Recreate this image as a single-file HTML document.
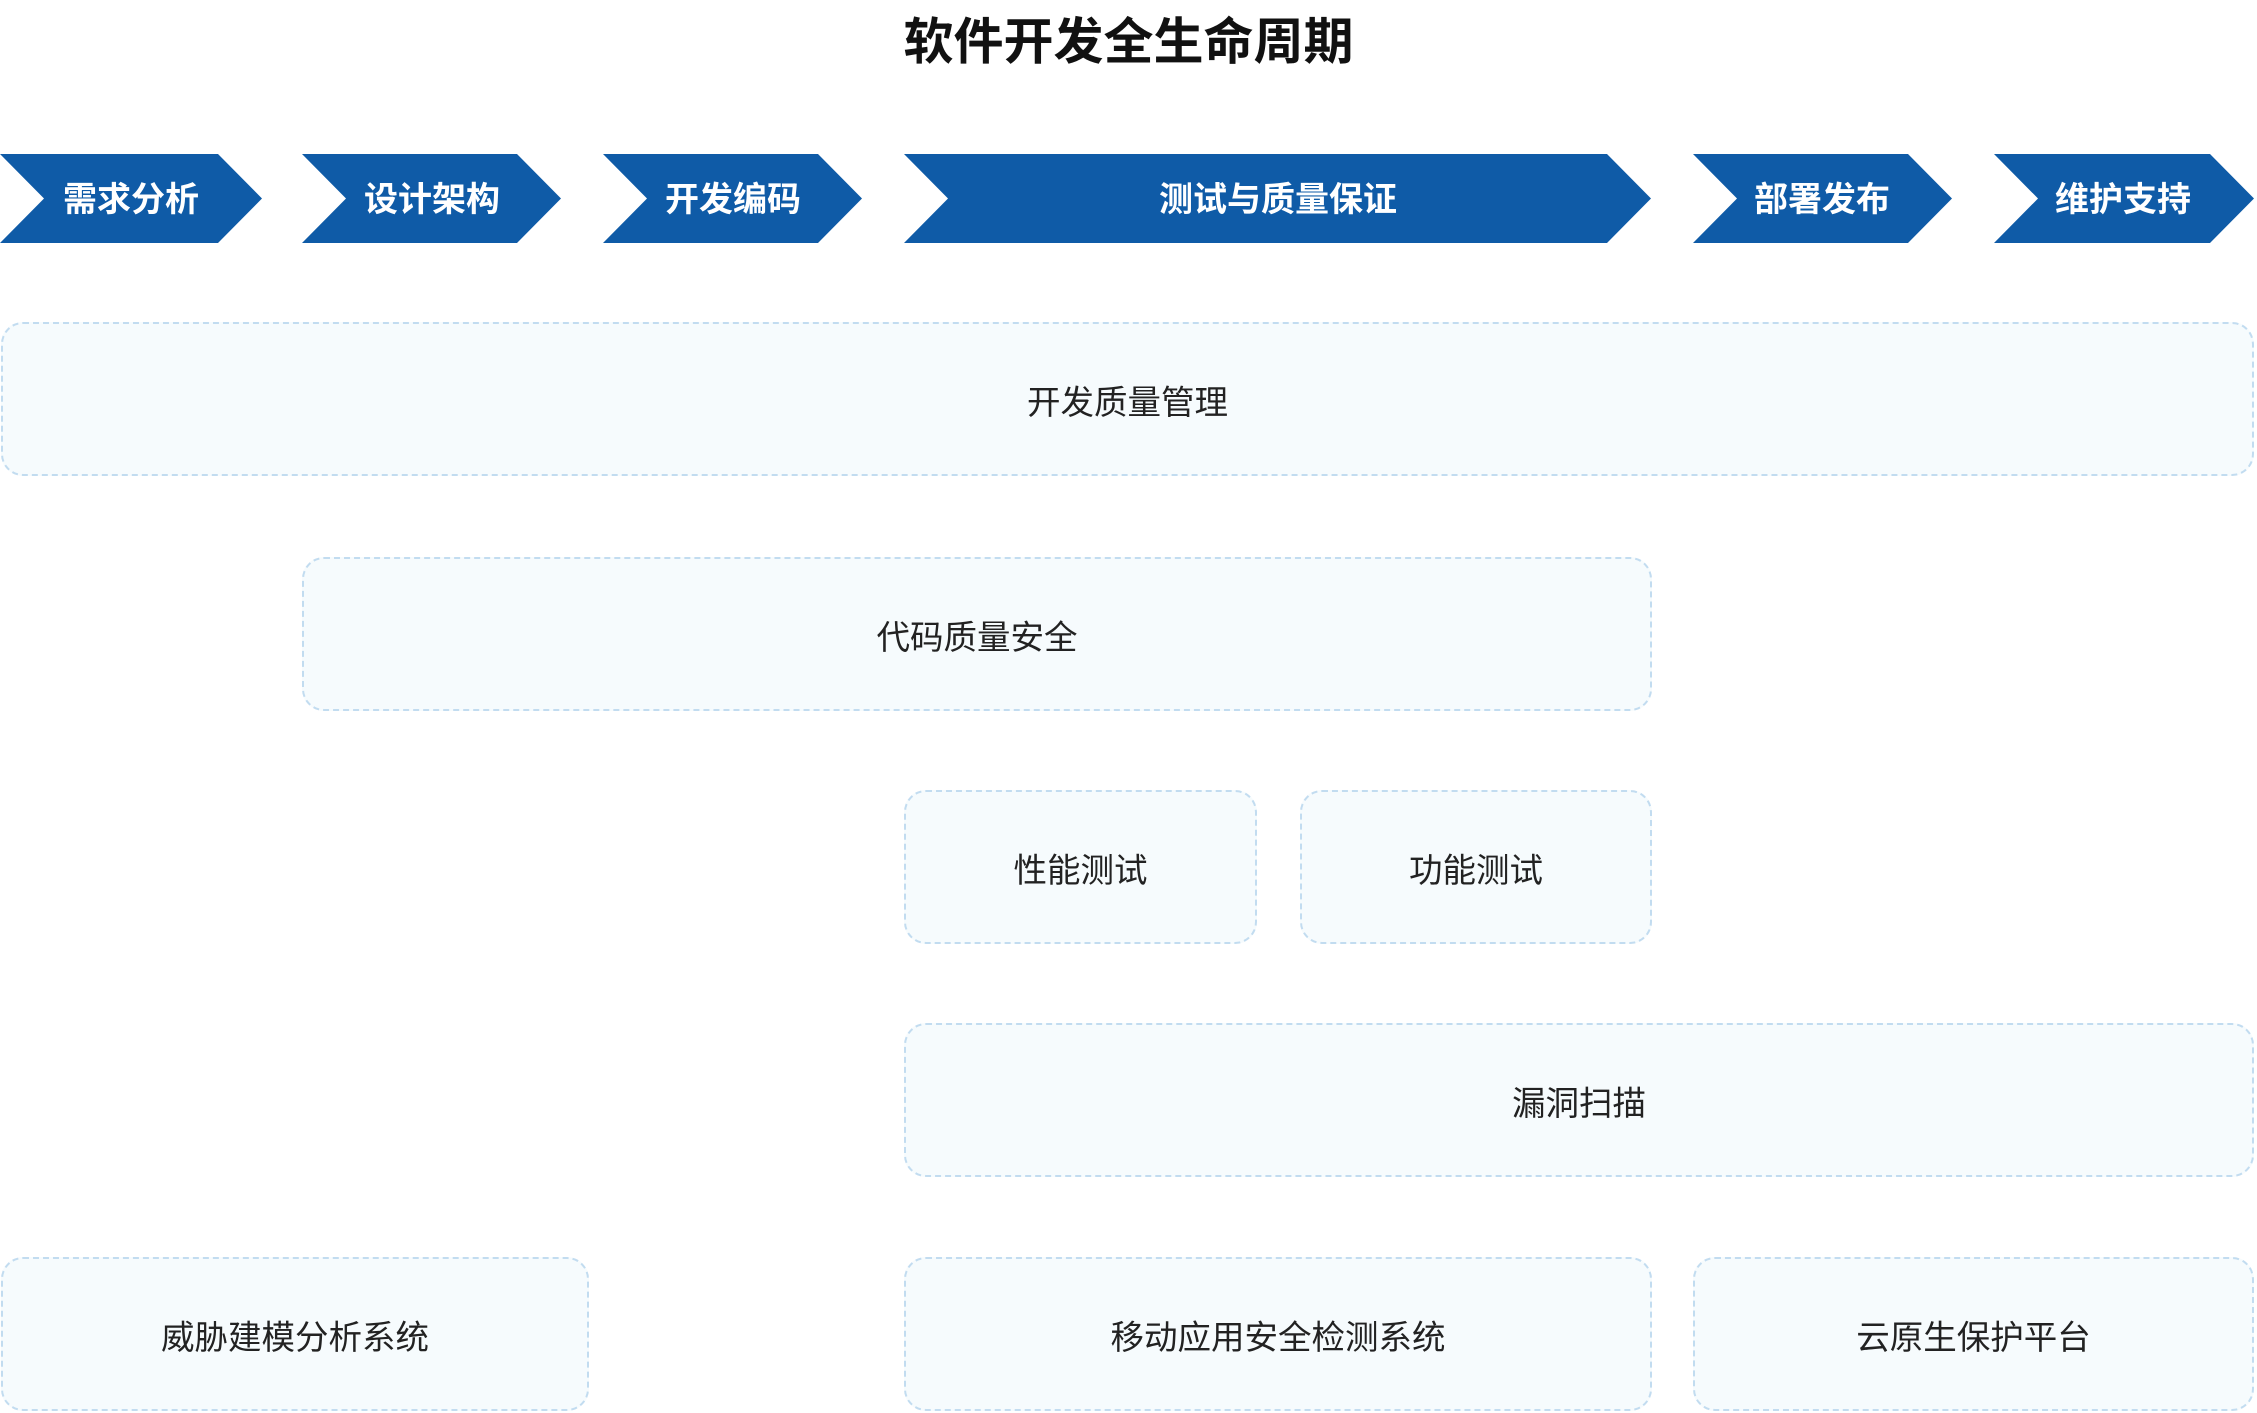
<!DOCTYPE html>
<html><head><meta charset="utf-8"><style>
body{margin:0;width:2257px;height:1413px;background:#fff;position:relative;overflow:hidden;font-family:"Liberation Sans","Noto Sans CJK SC",sans-serif}
.t{position:absolute;left:0;width:2257px;top:2px;text-align:center;font-size:50px;font-weight:bold;color:#111}
.b{position:absolute;box-sizing:border-box;background:#f6fbfd;border:2px dashed #c2dcf0;border-radius:22px;display:flex;align-items:center;justify-content:center;font-size:33.5px;color:#222}
svg{position:absolute;left:0;top:0}
</style></head><body>
<div class="t">软件开发全生命周期</div>
<svg width="2257" height="260">
<g fill="#0f5ba7">
<polygon points="0,154 218,154 262,198.5 218,243 0,243 44,198.5"/>
<polygon points="302,154 517,154 561,198.5 517,243 302,243 346,198.5"/>
<polygon points="603,154 818,154 862,198.5 818,243 603,243 647,198.5"/>
<polygon points="904,154 1607,154 1651,198.5 1607,243 904,243 948,198.5"/>
<polygon points="1693,154 1908,154 1952,198.5 1908,243 1693,243 1737,198.5"/>
<polygon points="1994,154 2210,154 2254,198.5 2210,243 1994,243 2038,198.5"/>
</g>
<g fill="#fff" font-size="34" font-weight="bold" text-anchor="middle" font-family="Liberation Sans, Noto Sans CJK SC, sans-serif">
<text x="131" y="211">需求分析</text>
<text x="432" y="211">设计架构</text>
<text x="733" y="211">开发编码</text>
<text x="1278" y="211">测试与质量保证</text>
<text x="1822" y="211">部署发布</text>
<text x="2123" y="211">维护支持</text>
</g></svg>
<div class="b" style="left:1px;top:322px;width:2253px;height:154px">开发质量管理</div>
<div class="b" style="left:302px;top:557px;width:1350px;height:154px">代码质量安全</div>
<div class="b" style="left:904px;top:790px;width:353px;height:154px">性能测试</div>
<div class="b" style="left:1300px;top:790px;width:352px;height:154px">功能测试</div>
<div class="b" style="left:904px;top:1023px;width:1350px;height:154px">漏洞扫描</div>
<div class="b" style="left:1px;top:1257px;width:588px;height:154px">威胁建模分析系统</div>
<div class="b" style="left:904px;top:1257px;width:748px;height:154px">移动应用安全检测系统</div>
<div class="b" style="left:1693px;top:1257px;width:561px;height:154px">云原生保护平台</div>
</body></html>
